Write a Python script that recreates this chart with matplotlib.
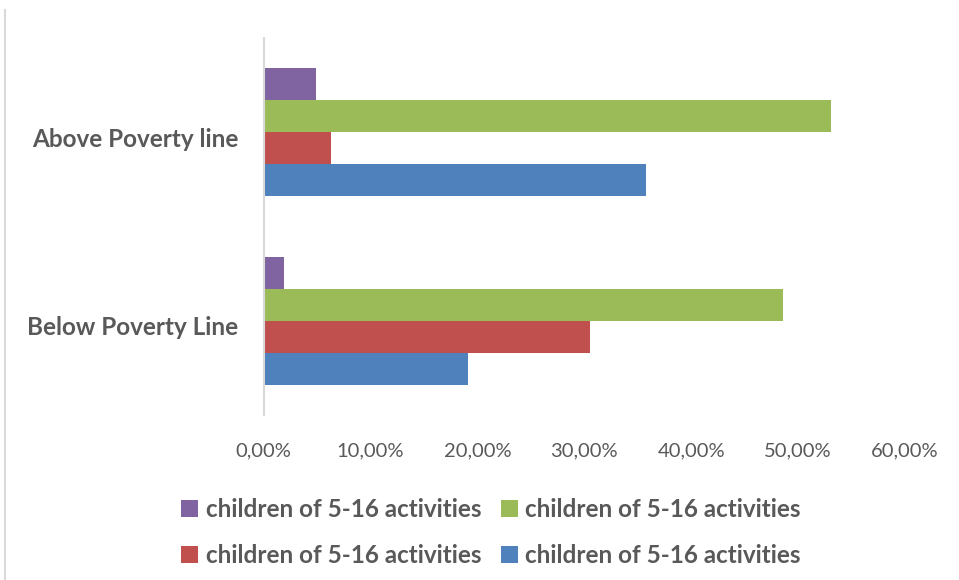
import matplotlib
matplotlib.use('Agg')
import matplotlib.pyplot as plt
from matplotlib.lines import Line2D
from matplotlib.ticker import FuncFormatter
from matplotlib.transforms import ScaledTranslation
import numpy as np

plt.rcParams['font.family'] = ['Lato', 'DejaVu Sans']

categories = ['Below Poverty Line', 'Above Poverty line']
series_labels = ['children of 5-16 activities'] * 4
blue_vals = [0.191, 0.358]
red_vals = [0.305, 0.063]
green_vals = [0.486, 0.531]
purple_vals = [0.019, 0.049]

colors = ['#4F81BD', '#C0504D', '#9BBB59', '#8064A2']
text_gray = '#595959'
line_gray = '#D9D9D9'

fig = plt.figure(figsize=(9.59, 5.80), dpi=100)
ax = fig.add_axes([0.2748, 0.2845, 0.6689, 0.65])

y = np.arange(len(categories))
h = 0.17
series = [blue_vals, red_vals, green_vals, purple_vals]
bars = []
for i, (vals, c) in enumerate(zip(series, colors)):
    b = ax.barh(y + (i - 1.5) * h, vals, height=h, color=c, label=series_labels[i])
    bars.append(b)

ax.set_xlim(0, 0.6)
ax.set_ylim(-0.5, 1.5)
ax.set_xticks(np.arange(0, 0.61, 0.1))
ax.xaxis.set_major_formatter(FuncFormatter(lambda v, p: f'{v*100:.2f}%'.replace('.', ',')))
ax.set_yticks(y)
ax.set_yticklabels(categories, fontweight='bold', fontsize=17.5, color=text_gray)
ax.tick_params(axis='x', length=0, pad=20, labelsize=14.5, labelcolor=text_gray)
ax.tick_params(axis='y', length=0, pad=18)
shift = ScaledTranslation(0, -5 / 100, fig.dpi_scale_trans)
for lbl in ax.get_yticklabels():
    lbl.set_transform(lbl.get_transform() + shift)

for s in ['top', 'right', 'bottom']:
    ax.spines[s].set_visible(False)
ax.spines['left'].set_color(line_gray)
ax.spines['left'].set_linewidth(1.5)

# outer chart border on the left
fig.add_artist(Line2D([5 / 959, 5 / 959], [0, 1 - 10 / 580], color=line_gray, lw=1.5))

# legend: row-major purple, green / red, blue
handles = [bars[3], bars[1], bars[2], bars[0]]
leg = fig.legend(handles, [series_labels[i] for i in [3, 1, 2, 0]], ncol=2,
                 loc='center', bbox_to_anchor=(0.512, 0.082), frameon=False,
                 prop={'weight': 'bold', 'size': 17.5}, labelcolor=text_gray,
                 handlelength=0.7, handleheight=0.7, handletextpad=0.3,
                 columnspacing=0.8, labelspacing=0.95)

fig.savefig('out.png', dpi=100)
